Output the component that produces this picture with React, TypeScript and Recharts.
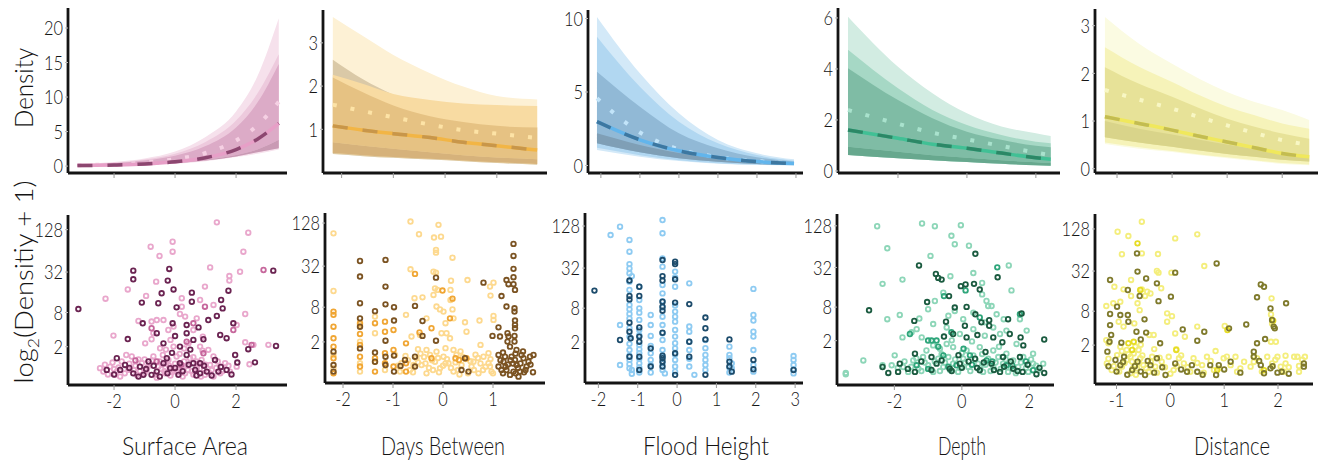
import React from 'react'
import { ComposedChart, Area, Line, XAxis, YAxis, ScatterChart, Scatter } from 'recharts'

const FONT = 'Lato, "Noto Sans", "DejaVu Sans", Arial, sans-serif'
const INK = '#141414'
const AXIS = { stroke: INK, strokeWidth: 2.8 }

// ---- bottom row: tick values on the log2(Density + 1) axis
const logTickValues = [2, 8, 32, 128]

// ---- Surface Area (top: curve, bottom: points)
const saXs = [-3.2, -2, -1, 0, 1, 2, 2.7, 3.4]
const saOuterLo = [0.0, 0.05, 0.15, 0.35, 0.7, 1.3, 1.8, 2.4]
const saOuterHi = [0.3, 0.6, 1.1, 2.1, 4.2, 7.9, 13, 21.4]
const saMidLo = [0.02, 0.08, 0.2, 0.4, 0.8, 1.4, 2.0, 2.6]
const saMidHi = [0.22, 0.48, 0.95, 1.8, 3.5, 6.6, 10.5, 16.2]
const saInnerLo = [0.04, 0.1, 0.22, 0.45, 0.9, 1.6, 2.4, 3.8]
const saInnerHi = [0.18, 0.4, 0.8, 1.5, 2.9, 5.6, 9.2, 14.8]
const saCoreLo = [0.02, 0.08, 0.2, 0.4, 0.8, 1.4, 2.0, 2.6]
const saCoreHi = [0.04, 0.1, 0.22, 0.45, 0.9, 1.6, 2.4, 3.8]
const saDash = [0.07, 0.16, 0.31, 0.62, 1.22, 2.4, 3.9, 6.2]
const saDot = [0.12, 0.27, 0.52, 1.0, 1.9, 3.7, 5.9, 9.3]

const saLight = [
  [1.37, 7.35], [2.4, 6.87], [-0.08, 6.45], [-0.08, 5.99], [-0.8, 6.22], [-0.51, 5.79], [2.24, 5.99], [1.15, 5.26],
  [2.13, 5.06], [1.78, 4.86], [1.78, 4.65], [0.98, 4.37], [-0.62, 4.6], [-1.55, 4.24], [-2.28, 3.81], [-0.95, 3.94],
  [0.22, 3.83], [0.22, 3.44], [0.16, 3.1], [0.82, 3.75], [1.26, 3.52], [0.33, 2.98], [2.3, 3.1], [2.02, 2.59],
  [-0.05, 2.52], [-1.2, 2.78], [-0.77, 2.75], [-2.02, 2.1], [-0.98, 1.74], [-0.77, 1.93], [-0.6, 2.82], [-0.38, 2.82],
  [-0.22, 2.36], [0.71, 2.9], [0.6, 2.36], [0.91, 2.05], [2.3, 1.79], [2.57, 1.67], [3.06, 1.67], [2.44, 0.77],
  [1.53, 0.66], [1.26, 0.2], [-2.46, 0.59], [-2.35, 0.43], [-2.13, 0.66], [-1.97, 0.28], [-1.75, 0.9], [-1.53, 0.51],
  [-1.42, 1.13], [-1.26, 0.28], [-1.09, 0.82], [-0.93, 0.51], [-0.71, 1.13], [-0.55, 0.66], [-0.33, 0.35], [-0.22, 0.97],
  [-0.05, 0.51], [0.05, 1.13], [0.22, 0.66], [0.33, 0.35], [0.49, 1.05], [0.71, 0.59], [0.87, 0.97], [0.98, 0.28],
  [1.15, 0.74], [1.26, 1.13], [1.48, 0.35], [1.64, 0.82], [1.8, 0.43], [2.02, 0.66], [0.44, 1.74], [0.82, 1.59],
  [1.09, 1.44], [-0.05, 1.59], [-0.49, 1.51], [-0.71, 2.21], [-2.2, 0.3], [-1.85, 0.62], [-1.65, 0.35], [-1.3, 0.7],
  [-1.15, 0.45], [-0.85, 0.8], [-0.65, 0.3], [-0.45, 0.55], [-0.3, 0.8], [-0.15, 0.25], [0.1, 0.4], [0.3, 0.9],
  [0.42, 0.5], [0.6, 0.3], [0.75, 0.8], [0.95, 0.55], [1.1, 0.4], [1.35, 0.6], [-1.0, 1.0], [-0.4, 1.2],
  [0.15, 1.25], [0.6, 1.1], [-1.6, 1.2], [-2.05, 0.85], [-1.9, 0.45], [-2.3, 0.75], [-2.0, 0.55], [-1.8, 0.2],
  [-1.5, 0.8], [-1.35, 0.5], [-1.2, 1.0], [-1.0, 0.35], [-0.9, 0.65], [-0.75, 0.95], [-0.6, 0.15], [-0.5, 0.9],
  [-0.35, 0.45], [-0.2, 0.7], [-0.1, 0.4], [0.0, 0.8], [0.15, 0.55], [0.25, 0.2], [0.4, 0.7], [0.55, 0.45],
  [0.7, 0.9], [0.85, 0.2], [1.0, 0.75], [1.2, 0.5], [1.4, 0.9], [1.55, 0.45], [1.75, 0.7], [0.3, 1.5],
  [0.9, 1.4], [-0.3, 1.45], [-0.15, 1.9],
]
const saMid = [
  [0.38, 1.82], [0.6, 2.67], [0.98, 3.44], [-0.77, 2.44], [0.93, 1.28], [1.91, 2.36], [2.9, 5.14], [2.51, 1.67],
  [-0.6, 0.9], [0.2, 0.75], [-1.3, 0.95],
]
const saDark = [
  [-3.17, 3.33], [-1.37, 5.11], [-1.37, 4.71], [-0.19, 5.19], [-0.24, 4.65], [-0.44, 4.06], [-0.05, 4.24], [-1.09, 3.63],
  [-0.55, 3.6], [0.55, 4.09], [0.55, 3.67], [0.05, 3.41], [1.51, 3.75], [1.56, 3.36], [1.75, 4.18], [3.22, 5.11],
  [3.31, 1.62], [-1.06, 2.67], [-1.55, 1.94], [-0.6, 2.21], [-0.08, 2.67], [0, 2.08], [0.38, 2.59], [0.77, 2.48],
  [1.09, 2.82], [1.37, 3.01], [1.48, 2.13], [1.69, 1.98], [1.91, 2.67], [2.4, 1.47], [2.62, 0.86], [1.97, 1.2],
  [2.04, 0.85], [-0.38, 1.74], [0.16, 1.59], [0.6, 1.9], [0.93, 1.93], [0.38, 2.21], [-2.24, 0.51], [-1.91, 1.05],
  [-1.64, 0.74], [-1.37, 0.35], [-1.15, 0.66], [-0.87, 0.9], [-0.6, 0.43], [-0.38, 0.82], [-0.16, 0.59], [0.11, 0.28],
  [0.38, 1.2], [0.66, 0.51], [0.82, 0.82], [1.04, 0.43], [1.31, 0.97], [1.69, 0.51], [0.6, 0.82], [-0.77, 0.28],
  [-1.8, 0.51], [0.16, 0.82], [-0.27, 1.05], [-1.04, 0.28], [0.82, 0.35], [1.42, 0.43], [-2.0, 0.3], [-1.5, 0.6],
  [-1.2, 0.2], [-0.95, 0.55], [-0.7, 0.7], [-0.5, 0.2], [-0.25, 0.35], [0.0, 0.6], [0.25, 0.45], [0.45, 0.75],
  [0.7, 0.25], [0.95, 0.7], [1.2, 0.25], [1.5, 0.65], [1.85, 0.3], [0.5, 1.45], [-0.1, 1.3],
]

// ---- Days Between
const dbXs = [-2.17, -1.58, -1.0, -0.29, 0.35, 1.0, 1.78]
const dbOuterLo = [0.43, 0.38, 0.34, 0.3, 0.26, 0.22, 0.18]
const dbOuterHi = [3.6, 3.15, 2.72, 2.3, 1.99, 1.77, 1.69]
const dbGreyLo = [0.43, 0.38, 0.34, 0.3, 0.26, 0.22, 0.18]
const dbGreyHi = [2.61, 2.15, 1.8, 1.5, 1.3, 1.15, 1.05]
const dbMidLo = [0.45, 0.4, 0.36, 0.32, 0.28, 0.24, 0.2]
const dbMidHi = [2.26, 2.05, 1.82, 1.68, 1.6, 1.56, 1.54]
const dbInnerLo = [0.7, 0.62, 0.55, 0.47, 0.4, 0.35, 0.31]
const dbInnerHi = [2.2, 1.85, 1.55, 1.3, 1.17, 1.08, 1.04]
const dbCoreLo = [0.45, 0.4, 0.36, 0.32, 0.28, 0.24, 0.2]
const dbCoreHi = [0.7, 0.62, 0.55, 0.47, 0.4, 0.35, 0.31]
const dbDash = [1.08, 0.98, 0.9, 0.81, 0.7, 0.62, 0.52]
const dbDot = [1.57, 1.42, 1.28, 1.11, 0.98, 0.9, 0.8]

const dbLight = [
  [-2.19, 6.54], [-2.19, 3.91], [-0.65, 7.08], [-0.09, 6.93], [-0.48, 6.5], [-0.18, 6.35], [-0.04, 6.39], [-0.14, 5.78],
  [-0.14, 5.66], [0.19, 5.43], [-0.65, 4.9], [-0.19, 4.79], [-0.14, 4.75], [0.16, 4.38], [0.49, 4.41], [-0.16, 4.03],
  [-0.11, 3.96], [-0.19, 3.73], [0.15, 3.96], [0.94, 4.11], [1.01, 4.29], [0.95, 3.7], [-0.57, 3.58], [-0.41, 3.62],
  [0.15, 3.5], [-0.13, 3.2], [-0.06, 3.07], [0.01, 2.97], [0.19, 3.07], [-0.74, 2.82], [-0.33, 2.66], [0.05, 2.44],
  [0.21, 2.66], [0.44, 2.48], [0.73, 2.56], [1.01, 2.77], [1.01, 2.59], [0.47, 2.05], [-0.03, 1.98], [0.07, 1.98],
  [-0.63, 1.83], [-0.46, 1.9], [0.14, 1.75], [0.75, 1.45], [-1.36, 2.74], [-1.36, 1.98], [-1.66, 2.36], [-1.66, 1.6],
  [-0.96, 0.99], [-0.83, 0.61], [-0.66, 0.3], [-0.53, 0.84], [-0.43, 0.53], [-0.33, 0.15], [-0.26, 0.99], [-0.16, 0.68],
  [-0.06, 0.38], [0.01, 0.91], [0.11, 0.61], [0.21, 0.23], [0.27, 0.99], [0.37, 0.53], [0.57, 0.46], [0.71, 0.15],
  [0.81, 0.91], [0.91, 0.61], [0.97, 0.23], [0.91, 1.07], [-0.13, 1.14], [-0.33, 1.22], [0.21, 1.22], [0.61, 0.68],
  [-0.59, 0.53], [-0.86, 0.23], [0.94, 0.46], [-2.19, 0.99], [-2.19, 0.38], [-1.66, 0.61], [-1.36, 0.68], [-1.16, 0.3],
  [-1.66, 0.23], [-0.7, 0.75], [-0.45, 1.05], [-0.2, 0.3], [0.05, 0.6], [0.3, 0.3], [0.45, 0.8], [0.65, 1.0],
  [0.8, 0.3], [-0.1, 0.85], [0.5, 0.15], [0.75, 0.6], [-0.35, 0.6], [-0.9, 0.5], [-0.75, 0.95], [-0.6, 0.2],
  [-0.5, 0.65], [-0.38, 0.9], [-0.28, 0.4], [-0.22, 0.75], [-0.08, 0.2], [0.0, 0.5], [0.08, 0.8], [0.16, 0.4],
  [0.25, 0.65], [0.33, 0.1], [0.4, 0.9], [0.55, 0.7], [0.62, 0.3], [0.7, 0.85], [0.85, 0.45], [0.95, 0.8],
  [1.0, 0.15], [0.05, 1.3], [0.35, 1.15], [-0.5, 1.25],
]
const dbMid = [
  [-2.19, 2.97], [-2.19, 2.82], [-2.19, 2.28], [-2.19, 1.75], [-2.19, 1.37], [-2.19, 0.84], [-2.19, 0.15], [-1.66, 2.44],
  [-1.66, 1.95], [-1.66, 1.45], [-1.66, 0.91], [-1.66, 0.46], [-1.36, 2.44], [-1.36, 0.84], [-1.36, 0.23], [-1.16, 2.51],
  [-1.16, 2.05], [-1.16, 1.07], [-1.16, 0.61], [-0.99, 2.13], [-0.99, 1.22], [-0.99, 0.46], [-0.74, 1.52], [-0.74, 0.61],
  [-0.74, 0.23], [-0.56, 4.69], [-0.47, 2.02], [-0.23, 2.21], [-0.01, 3.93], [0.19, 3.56], [0.14, 2.66], [0.25, 0.84],
  [0.32, 0.76], [0.47, 0.84], [-0.23, 0.84],
]
const dbDark = [
  [-1.66, 5.28], [-1.66, 4.57], [-1.66, 3.35], [-1.66, 2.66], [-1.66, 2.28], [-1.66, 1.29], [-2.19, 1.14], [-2.19, 0.53],
  [-2.19, 0.23], [-1.15, 5.33], [-1.15, 4.11], [-1.15, 3.3], [-1.15, 1.64], [-1.15, 0.91], [-1.15, 0.53], [-1.36, 2.99],
  [-1.36, 1.1], [-1.36, 0.68], [-0.98, 3.17], [-0.98, 2.56], [-0.98, 0.96], [-0.98, 0.23], [-0.56, 3.23], [-0.56, 0.91],
  [-0.56, 0.46], [-0.41, 2.54], [-0.41, 1.86], [-0.14, 4.52], [-0.14, 1.64], [-0.85, 0.49], [-0.76, 0.76], [0.44, 0.84],
  [0.37, 0.3], [0.51, 0.23], [0.81, 4.29], [0.99, 1.86], [1.11, 2.25], [1.14, 1.83], [1.17, 3.68], [1.27, 4.41],
  [1.27, 3.2], [1.31, 4.22], [1.41, 6.06], [1.41, 5.51], [1.41, 4.92], [1.41, 4.54], [1.41, 4.22], [1.44, 3.96],
  [1.43, 3.12], [1.43, 2.97], [1.44, 2.56], [1.44, 2.36], [1.44, 2.21], [1.43, 1.86], [1.43, 1.6], [1.34, 1.37],
  [1.47, 1.22], [1.29, 1.98], [1.31, 1.83], [1.29, 1.6], [1.11, 0.99], [1.21, 0.68], [1.27, 0.3], [1.37, 0.91],
  [1.47, 0.53], [1.54, 0.23], [1.61, 0.84], [1.67, 0.46], [1.81, 0.99], [1.17, 0.3], [1.34, 0.08], [1.44, 0.76],
  [1.57, 0.99], [1.71, 0.68], [1.41, 0.23], [1.24, 0.91], [1.51, 0.0], [1.11, 0.46], [1.74, 0.91], [1.3, 0.55],
  [1.5, 0.4], [1.62, 0.2], [1.2, 0.15], [1.4, 0.6], [1.15, 0.75], [1.25, 0.45], [1.35, 0.75], [1.45, 0.15],
  [1.55, 0.6], [1.65, 0.3], [1.75, 0.55], [1.8, 0.2], [1.2, 1.1], [1.45, 1.05], [1.6, 1.15],
]

// ---- Flood Height
const fhXs = [-2.1, -1.0, 0, 1, 2, 2.95]
const fhOuterLo = [1.05, 0.6, 0.3, 0.12, 0.04, 0.01]
const fhOuterHi = [10.1, 6.27, 3.55, 1.73, 0.83, 0.42]
const fhMidLo = [1.2, 0.7, 0.36, 0.16, 0.06, 0.02]
const fhMidHi = [8.76, 5.36, 2.98, 1.51, 0.71, 0.33]
const fhInnerLo = [1.51, 0.9, 0.5, 0.25, 0.1, 0.04]
const fhInnerHi = [6.38, 4.0, 2.19, 1.17, 0.56, 0.26]
const fhCoreLo = [1.51, 0.9, 0.5, 0.25, 0.1, 0.04]
const fhCoreHi = [2.19, 1.4, 0.85, 0.5, 0.28, 0.15]
const fhDash = [2.98, 1.75, 1.0, 0.55, 0.27, 0.14]
const fhDot = [4.57, 2.25, 1.1, 0.58, 0.3, 0.15]

const fhLight = [
  [-1.69, 6.59], [-1.45, 6.98], [-1.45, 2.38], [-1.45, 0.51], [-1.21, 6.36], [-1.21, 5.81], [-1.21, 5.23], [-1.21, 5.03],
  [-1.21, 4.8], [-1.21, 4.41], [-1.21, 4.02], [-1.21, 3.32], [-1.21, 3.12], [-1.21, 2.9], [-1.21, 2.69], [-1.21, 2.23],
  [-1.21, 1.84], [-1.21, 1.21], [-1.21, 0.75], [-1.21, 0.36], [-1.15, 4.67], [-1.15, 0.28], [-0.96, 4.17], [-0.96, 3.55],
  [-0.96, 3.16], [-0.96, 2.96], [-0.96, 2.62], [-0.96, 2.15], [-0.96, 1.45], [-0.96, 1.06], [-0.96, 0.59], [-0.96, 0.16],
  [-0.67, 2.85], [-0.67, 2.38], [-0.67, 1.87], [-0.67, 1.06], [-0.67, 0.51], [-0.67, 0.16], [-0.37, 7.29], [-0.37, 6.67],
  [-0.37, 5.5], [-0.37, 5.11], [-0.37, 4.25], [-0.37, 3.86], [-0.37, 2.77], [-0.37, 2.38], [-0.37, 1.68], [-0.37, 1.21],
  [-0.37, 0.59], [-0.37, 0.28], [-0.31, 0.12], [-0.05, 4.88], [-0.05, 4.61], [-0.05, 4.17], [-0.05, 3.01], [-0.05, 2.77],
  [-0.05, 2.54], [-0.05, 2.15], [-0.05, 1.84], [-0.05, 1.53], [-0.05, 1.29], [-0.05, 0.75], [-0.05, 0.44], [0.31, 4.33],
  [0.31, 2.31], [0.31, 2.07], [0.31, 1.21], [0.31, 0.44], [0.44, 0.05], [0.72, 1.68], [0.72, 0.98], [0.72, 0.75],
  [0.72, 0.51], [0.72, 0.28], [1.33, 1.37], [1.33, 0.98], [1.33, 0.83], [1.39, 0.59], [1.39, 0.36], [1.33, 0.16],
  [1.94, 4.07], [1.94, 2.85], [1.94, 2.59], [1.94, 2.07], [1.94, 1.84], [1.94, 1.21], [1.94, 0.51], [1.94, 0.2],
  [2.96, 0.93], [2.96, 0.75], [2.96, 0.51], [2.96, 0.12], [-1.21, 1.5], [-1.21, 0.95], [-1.21, 0.55], [-1.15, 0.1],
  [-0.96, 1.9], [-0.96, 1.25], [-0.96, 0.8], [-0.96, 0.4], [-0.67, 1.4], [-0.67, 0.75], [-0.37, 3.5], [-0.37, 3.2],
  [-0.37, 2.0], [-0.37, 0.9], [-0.05, 3.3], [-0.05, 1.0], [-0.05, 0.2], [0.31, 1.6], [0.31, 0.8], [0.72, 1.3],
  [1.33, 0.4], [2.96, 0.3],
]
const fhDark = [
  [-2.1, 3.99], [-1.45, 1.68], [-1.18, 1.76], [-1.21, 4.46], [-1.21, 3.74], [-1.21, 3.58], [-1.21, 2.49], [-1.21, 2.07],
  [-1.21, 0.9], [-0.96, 4.17], [-0.96, 3.74], [-0.96, 2.27], [-0.96, 1.84], [-0.96, 1.6], [-0.96, 0.9], [-0.96, 0.28],
  [-0.67, 1.29], [-0.67, 0.44], [-0.37, 5.42], [-0.37, 4.67], [-0.37, 4.46], [-0.37, 3.47], [-0.37, 3.24], [-0.37, 3.05],
  [-0.37, 2.02], [-0.37, 0.95], [-0.37, 0.83], [-0.37, 0.67], [-0.37, 0.44], [-0.05, 5.34], [-0.05, 5.23], [-0.05, 4.52],
  [-0.05, 3.43], [-0.05, 1.06], [-0.05, 0.05], [0.31, 3.36], [0.31, 1.6], [0.31, 0.9], [0.72, 2.73], [0.72, 2.23],
  [0.72, 1.71], [0.72, 0.05], [1.33, 1.71], [1.33, 0.67], [1.33, 0.44], [1.39, 0.2], [1.94, 0.75], [1.94, 0.31],
  [2.96, 0.28],
]

// ---- Depth
const deXs = [-3.45, -2, -1, 0, 1, 2, 2.43]
const deOuterLo = [0.63, 0.5, 0.42, 0.35, 0.28, 0.22, 0.2]
const deOuterHi = [6.05, 4.09, 3.05, 2.26, 1.74, 1.48, 1.37]
const deMidLo = [0.63, 0.5, 0.42, 0.35, 0.28, 0.22, 0.2]
const deMidHi = [4.75, 3.24, 2.39, 1.8, 1.41, 1.15, 1.09]
const deInnerLo = [0.95, 0.75, 0.62, 0.52, 0.42, 0.34, 0.31]
const deInnerHi = [4.03, 2.78, 2.07, 1.54, 1.22, 0.99, 0.93]
const deCoreLo = [0.63, 0.5, 0.42, 0.35, 0.28, 0.22, 0.2]
const deCoreHi = [0.95, 0.75, 0.62, 0.52, 0.42, 0.34, 0.31]
const deDash = [1.61, 1.28, 1.05, 0.89, 0.7, 0.52, 0.46]
const deDot = [2.39, 1.85, 1.5, 1.24, 0.98, 0.72, 0.62]

const deLight = [
  [-2.51, 6.99], [-1.18, 7.12], [-0.8, 6.99], [-0.03, 7.04], [-0.31, 6.54], [-0.21, 6.14], [0.21, 6.07], [-2.21, 5.95],
  [-0.93, 5.59], [0.34, 4.78], [-0.34, 4.63], [-1.76, 4.47], [-2.35, 4.27], [1.39, 5.14], [1.47, 3.96], [0.6, 4.31],
  [-0.55, 3.85], [-0.8, 3.46], [-1.0, 3.07], [0.6, 3.77], [0.73, 3.46], [0.78, 3.22], [0.88, 3.22], [-2.21, 2.6],
  [-1.84, 2.8], [-1.26, 2.63], [-0.85, 2.37], [-0.4, 2.76], [-0.21, 2.99], [0.04, 2.6], [0.34, 2.91], [0.68, 2.45],
  [1.03, 2.83], [1.24, 2.6], [1.72, 2.6], [1.92, 2.06], [-1.34, 2.13], [-1.19, 1.74], [-1.76, 1.74], [-1.49, 1.98],
  [-0.45, 2.21], [-0.06, 1.9], [0.34, 2.13], [0.68, 1.82], [0.93, 2.21], [1.13, 1.9], [1.32, 2.06], [1.62, 1.43],
  [2.11, 0.97], [2.41, 0.5], [-2.92, 0.65], [-3.44, 0.06], [-3.44, 0.0], [-1.99, 0.89], [-2.08, 0.42], [-2.35, 0.42],
  [-1.74, 0.34], [-1.59, 0.11], [-1.44, 0.65], [-1.29, 0.26], [-1.15, 0.81], [-1.0, 0.42], [-0.85, 0.11], [-0.7, 0.73],
  [-0.55, 0.34], [-0.4, 0.81], [-0.26, 0.5], [-0.11, 0.11], [0.04, 0.73], [0.19, 0.34], [0.34, 0.89], [0.48, 0.5],
  [0.63, 0.11], [0.78, 0.73], [0.93, 0.34], [1.08, 0.81], [1.22, 0.5], [1.37, 0.11], [1.52, 0.65], [1.67, 0.34],
  [1.82, 0.81], [1.97, 0.11], [2.11, 0.5], [2.26, 0.19], [-1.05, 1.12], [-0.65, 1.2], [-0.26, 1.28], [0.14, 1.12],
  [0.53, 1.28], [0.93, 1.12], [1.32, 0.97], [-0.45, 1.43], [-0.85, 1.36], [-1.9, 0.3], [-1.7, 0.6], [-1.5, 0.35],
  [-1.35, 0.75], [-1.2, 0.15], [-1.1, 0.55], [-0.95, 0.25], [-0.8, 0.6], [-0.65, 0.15], [-0.5, 0.55], [-0.35, 0.2],
  [-0.2, 0.7], [-0.05, 0.3], [0.1, 0.55], [0.25, 0.15], [0.4, 0.7], [0.55, 0.3], [0.7, 0.45], [0.85, 0.15],
  [1.0, 0.55], [1.15, 0.25], [1.3, 0.7], [1.45, 0.3], [1.6, 0.05], [1.75, 0.55], [1.9, 0.3], [2.05, 0.7],
  [2.2, 0.4], [-0.6, 0.95], [0.0, 1.0], [0.6, 0.95], [1.1, 1.3], [-0.3, 1.6], [0.3, 1.55],
]
const deMid = [
  [-0.31, 1.98], [-0.53, 3.69], [0.11, 3.96], [-1.0, 1.59], [-0.9, 1.59], [-0.75, 1.59], [-1.54, 1.9], [0.53, 2.68],
  [1.05, 5.05], [1.72, 2.83], [0.24, 0.89], [0.73, 0.65], [1.32, 0.42], [-0.16, 0.42], [-1.34, 0.42], [2.11, 0.19],
  [-0.55, 0.89], [-1.0, 0.25], [-0.4, 0.35], [0.3, 0.45], [0.9, 0.6], [1.5, 0.4], [1.9, 0.6], [0.05, 1.2],
  [-0.7, 1.3],
]
const deDark = [
  [-2.75, 3.02], [-1.27, 5.14], [-0.77, 4.74], [-0.7, 4.55], [-0.6, 4.47], [0.4, 5.69], [1.06, 4.58], [-0.03, 4.16],
  [0.11, 4.24], [0.36, 4.27], [0.53, 4.0], [-0.38, 3.69], [-1.03, 3.41], [-0.21, 3.15], [0.14, 3.18], [0.4, 2.83],
  [-1.41, 2.52], [-0.47, 2.48], [0.09, 2.29], [0.58, 2.45], [0.81, 2.55], [0.81, 2.29], [1.37, 2.6], [1.77, 2.87],
  [-0.26, 1.9], [-0.53, 1.78], [0.14, 1.74], [0.46, 1.85], [0.93, 1.74], [1.2, 1.51], [1.42, 1.9], [1.74, 1.74],
  [1.82, 1.36], [2.44, 1.64], [-1.39, 0.97], [-1.84, 0.5], [-2.18, 0.06], [-1.89, 0.11], [-2.35, 0.34], [-1.39, 0.11],
  [-0.75, 0.5], [-0.36, 0.26], [0.39, 0.73], [0.53, 0.19], [0.88, 0.5], [1.13, 0.11], [1.52, 0.26], [1.8, 0.11],
  [2.21, 0.0], [2.44, 0.06], [1.72, 0.81], [1.22, 0.81], [-0.06, 0.5], [-0.9, 0.81], [-1.6, 0.25], [-1.2, 0.6],
  [-0.9, 0.2], [-0.6, 0.65], [-0.3, 0.15], [0.0, 0.3], [0.2, 0.6], [0.45, 0.3], [0.65, 0.55], [0.95, 0.2],
  [1.25, 0.35], [1.45, 0.6], [1.65, 0.15], [1.95, 0.45], [2.3, 0.3], [-0.1, 0.9], [0.7, 1.05],
]

// ---- Distance
const diXs = [-1.22, -0.6, 0, 0.5, 1, 1.5, 2, 2.49]
const diOuterLo = [0.52, 0.42, 0.35, 0.28, 0.22, 0.16, 0.1, 0.07]
const diOuterHi = [3.18, 2.62, 2.2, 1.88, 1.61, 1.4, 1.23, 1.02]
const diMidLo = [0.55, 0.45, 0.37, 0.3, 0.24, 0.18, 0.12, 0.09]
const diMidHi = [2.55, 2.14, 1.82, 1.54, 1.3, 1.12, 0.95, 0.84]
const diInnerLo = [0.66, 0.55, 0.46, 0.38, 0.31, 0.25, 0.19, 0.15]
const diInnerHi = [2.13, 1.78, 1.51, 1.27, 1.05, 0.88, 0.74, 0.63]
const diCoreLo = [0.66, 0.55, 0.46, 0.38, 0.31, 0.25, 0.19, 0.15]
const diCoreHi = [1.0, 0.84, 0.72, 0.61, 0.51, 0.42, 0.34, 0.28]
const diDash = [1.09, 0.95, 0.81, 0.68, 0.56, 0.44, 0.32, 0.25]
const diDot = [1.65, 1.45, 1.26, 1.08, 0.91, 0.75, 0.6, 0.5]

const diLight = [
  [-0.53, 7.35], [-0.98, 6.88], [-0.78, 6.68], [0.5, 6.76], [0.09, 6.57], [-0.9, 5.83], [-0.53, 5.87], [-0.23, 5.84],
  [0.63, 5.28], [-0.25, 5.05], [-0.22, 4.97], [0.02, 4.97], [-0.73, 4.63], [-1.04, 4.31], [-0.87, 4.19], [-0.53, 4.19],
  [-0.37, 4.0], [-0.17, 4.24], [-1.19, 3.41], [-1.06, 3.54], [-0.93, 3.61], [-0.73, 3.88], [-0.61, 3.54], [-0.47, 3.88],
  [-0.43, 4.08], [-0.06, 3.07], [0.03, 2.94], [-0.06, 2.68], [0.5, 2.45], [1.01, 2.48], [1.88, 3.77], [1.87, 3.02],
  [1.89, 2.6], [1.87, 1.74], [1.96, 1.74], [2.14, 1.09], [2.36, 1.04], [2.39, 0.61], [2.5, 1.04], [-1.19, 1.82],
  [-1.15, 1.67], [-0.96, 2.68], [-0.87, 2.45], [-0.67, 2.6], [-0.57, 3.22], [-0.39, 2.06], [-0.31, 2.06], [0.09, 2.13],
  [0.11, 1.39], [0.27, 1.98], [0.84, 1.31], [1.55, 1.07], [1.99, 1.04], [2.14, 0.73], [-1.18, 0.73], [-1.09, 0.42],
  [-0.99, 1.12], [-0.9, 0.58], [-0.81, 0.89], [-0.74, 0.27], [-0.68, 1.2], [-0.62, 0.5], [-0.56, 0.97], [-0.5, 0.65],
  [-0.4, 0.34], [-0.34, 1.04], [-0.28, 0.58], [-0.16, 0.81], [-0.03, 1.04], [0.06, 0.42], [0.16, 0.97], [0.25, 0.73],
  [0.37, 0.34], [0.43, 0.97], [0.59, 0.65], [0.68, 1.04], [0.81, 0.42], [0.99, 0.97], [1.12, 0.65], [1.21, 1.04],
  [1.24, 0.34], [1.37, 0.81], [1.49, 0.58], [1.61, 0.97], [1.8, 1.04], [1.89, 0.73], [2.05, 0.58], [2.11, 0.34],
  [2.3, 1.04], [2.39, 0.34], [-0.81, 1.36], [-0.65, 1.51], [-0.59, 1.36], [-0.93, 1.51], [-0.74, 1.04], [-0.71, 0.81],
  [-1.15, 0.95], [-1.05, 0.6], [-0.95, 0.35], [-0.85, 0.75], [-0.78, 1.15], [-0.7, 0.5], [-0.64, 0.2], [-0.58, 0.75],
  [-0.52, 1.1], [-0.45, 0.5], [-0.36, 0.8], [-0.25, 0.3], [-0.2, 1.0], [-0.1, 0.55], [0.0, 0.25], [0.12, 0.6],
  [0.2, 1.1], [0.32, 0.55], [0.5, 0.75], [0.62, 0.3], [0.75, 0.85], [0.9, 0.5], [1.05, 1.05], [1.3, 0.5],
  [1.55, 0.8], [1.7, 0.35], [1.95, 0.9], [2.2, 0.55], [2.45, 0.9], [-0.9, 1.3], [-0.55, 1.6], [-0.3, 1.4],
]
const diMid = [
  [-0.61, 6.34], [-0.56, 4.16], [0.11, 1.36], [1.91, 2.73], [-0.78, 1.67], [1.06, 2.29], [0.87, 0.42], [-0.71, 1.36],
  [-0.68, 1.74], [1.74, 0.42],
]
const diDark = [
  [-1.12, 4.63], [-0.62, 5.87], [-0.61, 5.02], [-0.45, 4.7], [-0.25, 4.47], [0.09, 4.97], [0.86, 5.4], [1.68, 4.42],
  [1.74, 4.31], [1.61, 3.82], [2.15, 3.54], [1.86, 3.3], [1.89, 2.76], [1.92, 2.45], [1.94, 2.37], [0.01, 3.85],
  [-0.22, 3.64], [-0.57, 3.88], [-0.79, 4.16], [-0.99, 3.38], [-1.12, 3.04], [-1.12, 2.52], [-0.93, 2.99], [-0.79, 2.99],
  [-0.78, 2.68], [-0.48, 2.79], [-0.63, 2.21], [-0.45, 2.17], [-1.1, 2.06], [-0.91, 1.7], [-0.55, 1.85], [-0.19, 1.67],
  [0.23, 2.32], [0.5, 1.79], [0.63, 2.21], [1.09, 2.37], [1.41, 2.55], [1.61, 1.67], [1.76, 1.87], [-1.17, 1.28],
  [-1.13, 1.74], [-1.02, 0.89], [-0.93, 0.65], [-0.86, 1.04], [-0.71, 0.42], [-0.61, 0.81], [-0.47, 0.19], [-0.37, 0.65],
  [-0.25, 0.97], [-0.09, 0.19], [0.09, 0.73], [0.31, 0.34], [0.5, 0.34], [0.74, 0.65], [0.85, 0.19], [0.9, 0.65],
  [1.12, 0.81], [1.55, 1.28], [1.55, 1.04], [1.68, 0.65], [1.74, 0.27], [1.86, 0.5], [1.99, 0.3], [2.07, 0.34],
  [2.48, 0.73], [2.48, 0.58], [-1.15, 0.6], [-1.0, 0.35], [-0.88, 0.8], [-0.8, 0.2], [-0.66, 0.6], [-0.55, 0.35],
  [-0.42, 0.85], [-0.3, 0.3], [-0.15, 0.55], [0.2, 0.45], [0.4, 0.65], [0.6, 0.2], [1.0, 0.45], [1.3, 0.3],
  [1.65, 0.85], [1.9, 0.6], [2.2, 0.25],
]

type Rect = { left: number; top: number; right: number; bottom: number }
type Band = { lo: number[]; hi: number[]; color: string }
type Group = { pts: number[][]; color: string }
type Panel = {
  title: string
  titleX: number
  titleLen: number
  top: Rect
  bottom: Rect
  topX: [number, number]
  botX: [number, number]
  topY: [number, number]
  botY: [number, number]
  xTicks: number[]
  yTicks: number[]
  xs: number[]
  bands: Band[]
  dash: number[]
  dot: number[]
  dashA: string
  dashB: string
  dotColor: string
  groups: Group[]
}

const panels: Panel[] = [
  {
    title: 'Surface Area', titleX: 185, titleLen: 126,
    top: { left: 68, top: 8, right: 287, bottom: 173 },
    bottom: { left: 68, top: 215, right: 287, bottom: 385 },
    topX: [-3.51, 3.67], botX: [-3.51, 3.67], topY: [-1.0, 22.9], botY: [-0.19, 7.69],
    xTicks: [-2, 0, 2], yTicks: [0, 5, 10, 15, 20],
    xs: saXs,
    bands: [
      { lo: saOuterLo, hi: saOuterHi, color: '#f6e1ec' },
      { lo: saMidLo, hi: saMidHi, color: '#edcadd' },
      { lo: saInnerLo, hi: saInnerHi, color: '#dcabc7' },
      { lo: saCoreLo, hi: saCoreHi, color: '#c99ab4' },
    ],
    dash: saDash, dot: saDot, dashA: '#e79fc7', dashB: '#8c4770', dotColor: '#f5d0e3',
    groups: [
      { pts: saLight, color: '#e9a7cc' },
      { pts: saMid, color: '#c6679c' },
      { pts: saDark, color: '#6b2452' },
    ],
  },
  {
    title: 'Days Between', titleX: 443, titleLen: 124,
    top: { left: 323, top: 10, right: 547, bottom: 173 },
    bottom: { left: 325, top: 213, right: 545, bottom: 383 },
    topX: [-2.36, 1.97], botX: [-2.36, 2.04], topY: [-0.01, 3.76], botY: [-0.29, 7.47],
    xTicks: [-2, -1, 0, 1], yTicks: [1, 2, 3],
    xs: dbXs,
    bands: [
      { lo: dbOuterLo, hi: dbOuterHi, color: '#fdf1d5' },
      { lo: dbGreyLo, hi: dbGreyHi, color: '#dac9a7' },
      { lo: dbMidLo, hi: dbMidHi, color: '#f8dba2' },
      { lo: dbInnerLo, hi: dbInnerHi, color: '#e6c283' },
      { lo: dbCoreLo, hi: dbCoreHi, color: '#d6b27b' },
    ],
    dash: dbDash, dot: dbDot, dashA: '#f2b545', dashB: '#c8964a', dotColor: '#fde3a6',
    groups: [
      { pts: dbLight, color: '#fdd98f' },
      { pts: dbMid, color: '#f0a634' },
      { pts: dbDark, color: '#7b5322' },
    ],
  },
  {
    title: 'Flood Height', titleX: 706, titleLen: 126,
    top: { left: 588, top: 10, right: 803, bottom: 173 },
    bottom: { left: 585, top: 213, right: 803, bottom: 383 },
    topX: [-2.33, 3.18], botX: [-2.34, 3.2], topY: [-0.51, 10.58], botY: [-0.33, 7.62],
    xTicks: [-2, -1, 0, 1, 2, 3], yTicks: [0, 5, 10],
    xs: fhXs,
    bands: [
      { lo: fhOuterLo, hi: fhOuterHi, color: '#d3e9f8' },
      { lo: fhMidLo, hi: fhMidHi, color: '#b1d7f1' },
      { lo: fhInnerLo, hi: fhInnerHi, color: '#91b9d6' },
      { lo: fhCoreLo, hi: fhCoreHi, color: '#7f9fb6' },
    ],
    dash: fhDash, dot: fhDot, dashA: '#62b5ec', dashB: '#3d77a0', dotColor: '#c2e4f9',
    groups: [
      { pts: fhLight, color: '#8ecbf2' },
      { pts: fhDark, color: '#1d4c6c' },
    ],
  },
  {
    title: 'Depth', titleX: 962, titleLen: 48,
    top: { left: 838, top: 8, right: 1060, bottom: 173 },
    bottom: { left: 837, top: 214, right: 1054, bottom: 385 },
    topX: [-3.74, 2.7], botX: [-3.7, 2.73], topY: [-0.08, 6.39], botY: [-0.51, 7.57],
    xTicks: [-2, 0, 2], yTicks: [0, 2, 4, 6],
    xs: deXs,
    bands: [
      { lo: deOuterLo, hi: deOuterHi, color: '#d2ece2' },
      { lo: deMidLo, hi: deMidHi, color: '#a6d8c5' },
      { lo: deInnerLo, hi: deInnerHi, color: '#7fbca5' },
      { lo: deCoreLo, hi: deCoreHi, color: '#67a88e' },
    ],
    dash: deDash, dot: deDot, dashA: '#41c095', dashB: '#2c8766', dotColor: '#a9e2cd',
    groups: [
      { pts: deLight, color: '#8dd6b8' },
      { pts: deMid, color: '#2fa67b' },
      { pts: deDark, color: '#1b5b40' },
    ],
  },
  {
    title: 'Distance', titleX: 1232, titleLen: 76,
    top: { left: 1095, top: 9, right: 1318, bottom: 173 },
    bottom: { left: 1095, top: 214, right: 1313, bottom: 384 },
    topX: [-1.4, 2.65], botX: [-1.4, 2.65], topY: [-0.09, 3.35], botY: [-0.23, 7.71],
    xTicks: [-1, 0, 1, 2], yTicks: [0, 1, 2, 3],
    xs: diXs,
    bands: [
      { lo: diOuterLo, hi: diOuterHi, color: '#fbfbe2' },
      { lo: diMidLo, hi: diMidHi, color: '#f6f3b9' },
      { lo: diInnerLo, hi: diInnerHi, color: '#e7e298' },
      { lo: diCoreLo, hi: diCoreHi, color: '#d9d48a' },
    ],
    dash: diDash, dot: diDot, dashA: '#f0e85c', dashB: '#c3bc52', dotColor: '#f8f7c4',
    groups: [
      { pts: diLight, color: '#f4ee7c' },
      { pts: diMid, color: '#e6dc24' },
      { pts: diDark, color: '#7f7a2c' },
    ],
  },
]

const logPos = logTickValues.map((v) => Math.log2(v + 1))
const logLabel = (v: number) => String(logTickValues[logPos.findIndex((p) => Math.abs(p - v) < 1e-6)] ?? '')

const yTick = (fmt: (v: number) => string) => (p: any) => (
  <text
    transform={`translate(${p.x},${p.y}) scale(0.82,1)`}
    textAnchor="end"
    dy="0.36em"
    fontSize={20}
    fontWeight={300}
    fill={INK}
    fontFamily={FONT}
  >
    {fmt(p.payload.value)}
  </text>
)

const xTick = (p: any) => (
  <text
    transform={`translate(${p.x},${p.y + 16}) scale(0.82,1)`}
    textAnchor="middle"
    fontSize={20}
    fontWeight={300}
    fill={INK}
    fontFamily={FONT}
  >
    {String(p.payload.value)}
  </text>
)

const noTick = () => <g />

const ring = (color: string) => (p: any) => (
  <circle cx={p.cx} cy={p.cy} r={2.3} fill="none" stroke={color} strokeWidth={1.8} />
)

function DensityPanel({ p }: { p: Panel }) {
  const r = p.top
  const W = 40
  const M = 4
  const H = 10
  const pw = r.right - r.left
  const ph = r.bottom - r.top
  const rows = p.xs.map((x, i) => {
    const row: any = { x, dash: p.dash[i], dot: p.dot[i] }
    p.bands.forEach((b, k) => {
      row['b' + k] = [b.lo[i], b.hi[i]]
    })
    return row
  })
  return (
    <div style={{ position: 'absolute', left: r.left - W, top: r.top - M }}>
      <ComposedChart width={W + pw + M} height={M + ph + H} data={rows} margin={{ top: M, right: M, bottom: 0, left: 0 }}>
        <XAxis
          type="number"
          dataKey="x"
          domain={p.topX}
          ticks={p.xTicks}
          allowDataOverflow
          height={H}
          tickSize={5}
          tickLine={{ stroke: '#9a9a9a' }}
          axisLine={AXIS}
          tick={noTick}
        />
        <YAxis
          type="number"
          domain={p.topY}
          ticks={p.yTicks}
          allowDataOverflow
          width={W}
          tickSize={3}
          tickMargin={2}
          tickLine={{ stroke: '#bbbbbb' }}
          axisLine={AXIS}
          tick={yTick(String)}
        />
        {p.bands.map((b, k) => (
          <Area
            key={k}
            type="monotone"
            dataKey={'b' + k}
            stroke="none"
            fill={b.color}
            fillOpacity={1}
            dot={false}
            activeDot={false}
            isAnimationActive={false}
          />
        ))}
        <Line type="monotone" dataKey="dot" stroke={p.dotColor} strokeWidth={4} strokeDasharray="4 14" dot={false} isAnimationActive={false} />
        <Line type="monotone" dataKey="dash" stroke={p.dashA} strokeWidth={3.5} dot={false} isAnimationActive={false} />
        <Line type="monotone" dataKey="dash" stroke={p.dashB} strokeWidth={3.5} strokeDasharray="15 15" dot={false} isAnimationActive={false} />
      </ComposedChart>
    </div>
  )
}

function PointsPanel({ p }: { p: Panel }) {
  const r = p.bottom
  const W = 44
  const M = 4
  const H = 34
  const pw = r.right - r.left
  const ph = r.bottom - r.top
  return (
    <div style={{ position: 'absolute', left: r.left - W, top: r.top - M }}>
      <ScatterChart width={W + pw + M} height={M + ph + H} margin={{ top: M, right: M, bottom: 0, left: 0 }}>
        <XAxis
          type="number"
          dataKey="x"
          domain={p.botX}
          ticks={p.xTicks}
          allowDataOverflow
          height={H}
          tickSize={5}
          tickMargin={2}
          tickLine={{ stroke: '#9a9a9a' }}
          axisLine={AXIS}
          tick={xTick}
        />
        <YAxis
          type="number"
          dataKey="y"
          domain={p.botY}
          ticks={logPos}
          allowDataOverflow
          width={W}
          tickSize={3}
          tickMargin={2}
          tickLine={{ stroke: '#bbbbbb' }}
          axisLine={AXIS}
          tick={yTick(logLabel)}
        />
        {p.groups.map((g, k) => (
          <Scatter
            key={k}
            data={g.pts.map(([x, y]) => ({ x, y }))}
            shape={ring(g.color)}
            isAnimationActive={false}
          />
        ))}
      </ScatterChart>
    </div>
  )
}

export default function App() {
  return (
    <div style={{ position: 'absolute', left: 0, top: 0, width: 1324, height: 461, background: '#fff', overflow: 'hidden' }}>
      {panels.map((p) => (
        <React.Fragment key={p.title}>
          <DensityPanel p={p} />
          <PointsPanel p={p} />
        </React.Fragment>
      ))}
      <svg width={1324} height={461} style={{ position: 'absolute', left: 0, top: 0, pointerEvents: 'none' }}>
        <text
          transform="translate(33,88) rotate(-90)"
          textAnchor="middle"
          fontSize={25}
          fontWeight={300}
          fill={INK}
          fontFamily={FONT}
          textLength={80}
          lengthAdjust="spacingAndGlyphs"
        >
          Density
        </text>
        <text
          transform="translate(33,282) rotate(-90)"
          textAnchor="middle"
          fontSize={25}
          fontWeight={300}
          fill={INK}
          fontFamily={FONT}
          textLength={203}
          lengthAdjust="spacingAndGlyphs"
        >
          log<tspan fontSize={16} dy={6}>2</tspan><tspan dy={-6}>(Densitiy + 1)</tspan>
        </text>
        {panels.map((p) => (
          <text
            key={p.title}
            x={p.titleX}
            y={455}
            textAnchor="middle"
            fontSize={25}
            fontWeight={300}
            fill={INK}
            fontFamily={FONT}
            textLength={p.titleLen}
            lengthAdjust="spacingAndGlyphs"
          >
            {p.title}
          </text>
        ))}
      </svg>
    </div>
  )
}
